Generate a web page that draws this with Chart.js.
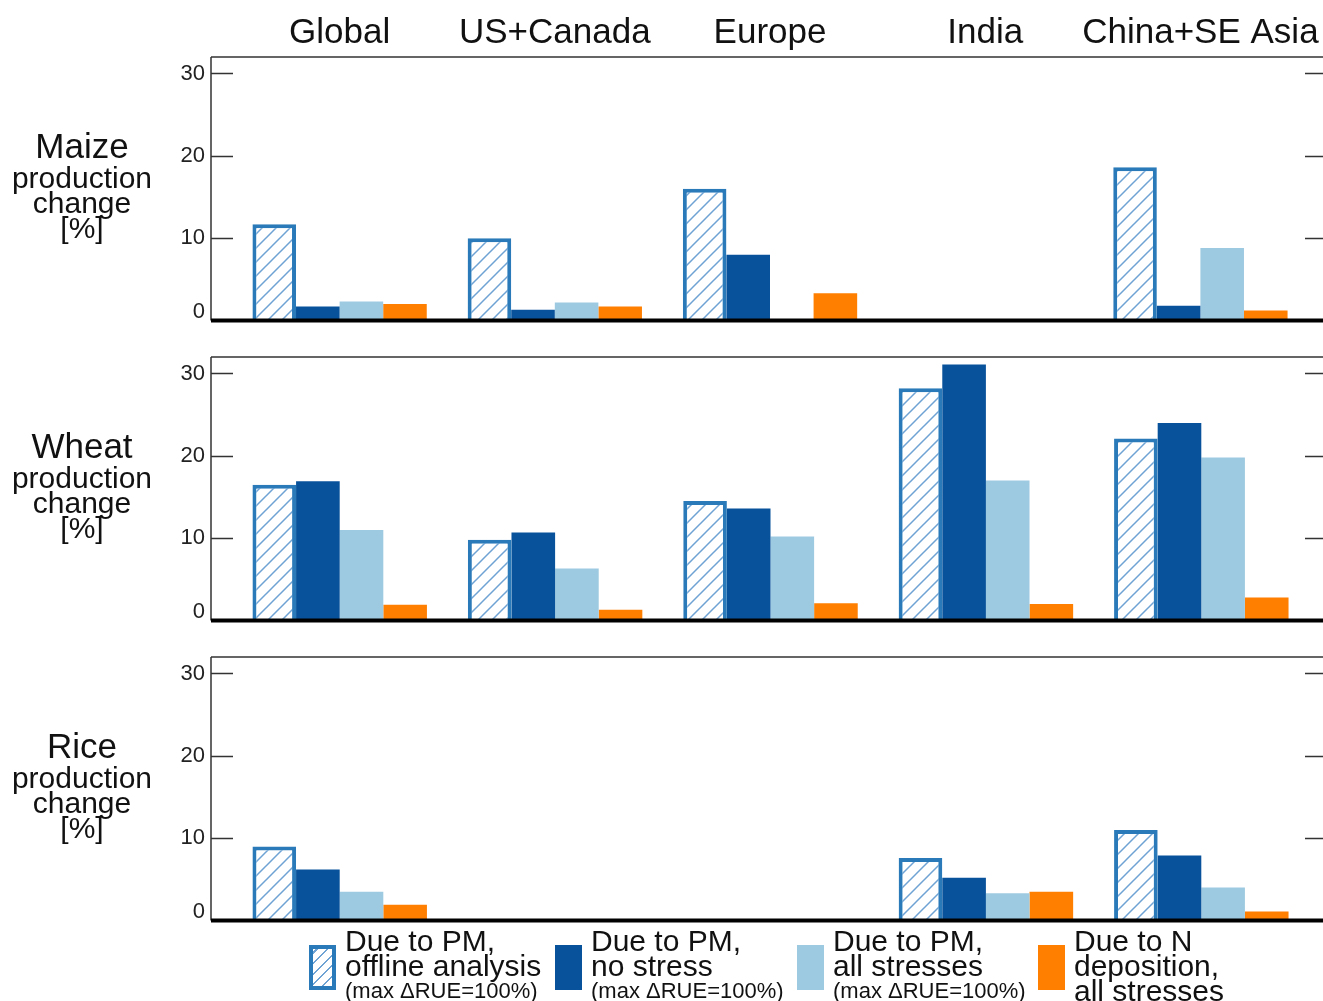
<!DOCTYPE html>
<html>
<head>
<meta charset="utf-8">
<script src="https://cdn.jsdelivr.net/npm/chart.js@4.4.1/dist/chart.umd.min.js"></script>
<style>
  body { margin: 0; background: #fff; font-family: "Liberation Sans", Arial, sans-serif; color: #111; }
  #page { position: relative; width: 1323px; height: 1001px; overflow: hidden; }
  canvas { position: absolute; left: 0; }
  .lab { position: absolute; left: 0; width: 164px; text-align: center; white-space: nowrap; }
  .big { font-size: 35px; line-height: 34px; }
  .small { font-size: 30px; line-height: 26px; }
  .leg { position: absolute; white-space: nowrap; }
  .leg .l1 { font-size: 30px; line-height: 25px; }
  .leg .l3 { font-size: 22px; line-height: 25px; }
  .sym { position: absolute; width: 27px; height: 45px; box-sizing: border-box; }
</style>
</head>
<body>
<div id="page">
  <canvas id="c0" width="1323" height="364" style="top:0px"></canvas>
  <canvas id="c1" width="1323" height="364" style="top:300px"></canvas>
  <canvas id="c2" width="1323" height="364" style="top:600px"></canvas>
</div>
<script>
// данные
const regions = ["Global", "US+Canada", "Europe", "India", "China+SE Asia"];
const crops = ["Maize", "Wheat", "Rice"];
const yTicks = [0, 10, 20, 30];

const maizeOffline = [11.7, 10.0, 16.0, null, 18.6];
const maizeNoStress = [1.7, 1.3, 8.0, null, 1.8];
const maizeAllStress = [2.3, 2.2, null, null, 8.8];
const maizeNdep = [2.0, 1.7, 3.3, null, 1.2];

const wheatOffline = [16.5, 9.8, 14.5, 28.2, 22.1];
const wheatNoStress = [16.9, 10.7, 13.6, 31.1, 24.0];
const wheatAllStress = [11.0, 6.3, 10.2, 17.0, 19.8];
const wheatNdep = [1.9, 1.3, 2.1, 2.0, 2.8];

const riceOffline = [9.0, null, null, 7.6, 11.0];
const riceNoStress = [6.2, null, null, 5.2, 7.9];
const riceAllStress = [3.5, null, null, 3.3, 4.0];
const riceNdep = [1.9, null, null, 3.5, 1.1];

const legendLabels = [
  ["Due to PM,", "offline analysis", "(max \u0394RUE=100%)"],
  ["Due to PM,", "no stress", "(max \u0394RUE=100%)"],
  ["Due to PM,", "all stresses", "(max \u0394RUE=100%)"],
  ["Due to N", "deposition,", "all stresses"]
];

const seriesByCrop = [
  [maizeOffline, maizeNoStress, maizeAllStress, maizeNdep],
  [wheatOffline, wheatNoStress, wheatAllStress, wheatNdep],
  [riceOffline, riceNoStress, riceAllStress, riceNdep]
];

const colHatchBorder = "#2a7ab9";
const colDark = "#08529b";
const colLight = "#9ecae1";
const colOrange = "#ff7f00";

// штриховка
function makeHatch() {
  const p = document.createElement("canvas");
  p.width = 14; p.height = 14;
  const g = p.getContext("2d");
  g.fillStyle = "#fff";
  g.fillRect(0, 0, 14, 14);
  g.strokeStyle = "#6ea3d3";
  g.lineWidth = 1.5;
  g.beginPath();
  g.moveTo(-2, 16); g.lineTo(16, -2);
  g.moveTo(-9, 9); g.lineTo(9, -9);
  g.moveTo(5, 23); g.lineTo(23, 5);
  g.stroke();
  return g.createPattern(p, "repeat");
}

// рамка, засечки и ось нуля
const framePlugin = {
  id: "frame",
  afterDraw(chart) {
    const ctx = chart.ctx;
    const y = chart.scales.y;
    const top = chart.chartArea.top;
    const y0 = y.getPixelForValue(0);
    const L = 211, R = 1323;
    ctx.save();
    ctx.strokeStyle = "#333";
    ctx.lineWidth = 1.5;
    ctx.beginPath();
    ctx.moveTo(L, top); ctx.lineTo(R, top);
    ctx.moveTo(L, top); ctx.lineTo(L, y0);
    yTicks.forEach(function (v) {
      if (v === 0) return;
      const py = Math.round(y.getPixelForValue(v)) + 0.5;
      ctx.moveTo(L, py); ctx.lineTo(L + 22, py);
      ctx.moveTo(R - 18, py); ctx.lineTo(R, py);
    });
    ctx.stroke();
    ctx.strokeStyle = "#000";
    ctx.lineWidth = 4;
    ctx.beginPath();
    ctx.moveTo(L, y0); ctx.lineTo(R, y0);
    ctx.stroke();
    ctx.restore();
  }
};

const hatch = makeHatch();

seriesByCrop.forEach(function (series, i) {
  const first = i === 0;
  new Chart(document.getElementById("c" + i), {
    type: "bar",
    data: {
      labels: regions,
      datasets: [
        { label: legendLabels[0].join(" "), data: series[0], backgroundColor: hatch, borderColor: colHatchBorder, borderWidth: 4 },
        { label: legendLabels[1].join(" "), data: series[1], backgroundColor: colDark, borderWidth: 0 },
        { label: legendLabels[2].join(" "), data: series[2], backgroundColor: colLight, borderWidth: 0 },
        { label: legendLabels[3].join(" "), data: series[3], backgroundColor: colOrange, borderWidth: 0 }
      ]
    },
    options: {
      responsive: false,
      animation: false,
      devicePixelRatio: 1,
      datasets: { bar: { barPercentage: 1, categoryPercentage: 0.81 } },
      layout: { padding: { top: 0, right: 14, bottom: 10, left: 0 } },
      plugins: { legend: { display: false }, tooltip: { enabled: false } },
      scales: {
        x: {
          position: "top",
          grid: { display: false, drawTicks: false },
          border: { display: false },
          ticks: { display: first, font: { family: "Liberation Sans", size: 35 }, color: "#111", padding: 3, maxRotation: 0, autoSkip: false },
          afterFit: function (s) { s.height = 57; }
        },
        y: {
          min: 0,
          max: 32,
          grid: { display: false, drawTicks: false },
          border: { display: false },
          ticks: {
            stepSize: 10,
            color: "#222",
            padding: 27,
            // "0" чуть выше оси, как в оригинале
            font: function (c) {
              return { family: "Liberation Sans", size: 22, lineHeight: c.tick && c.tick.value === 0 ? 0.75 : 1.2 };
            },
            callback: function (v) { return v === 0 ? ["0", ""] : v; }
          },
          afterBuildTicks: function (s) {
            s.ticks = yTicks.map(function (v) { return { value: v }; });
          },
          afterFit: function (s) { s.width = 232; }
        }
      }
    },
    plugins: [framePlugin]
  });
});

// подписи строк
const page = document.getElementById("page");
crops.forEach(function (crop, i) {
  const off = i * 300;
  const lines = [[crop, "big", 146], ["production", "small", 178], ["change", "small", 203], ["[%]", "small", 228]];
  lines.forEach(function (ln) {
    const d = document.createElement("div");
    d.className = "lab " + ln[1];
    d.textContent = ln[0];
    const h = ln[1] === "big" ? 34 : 26;
    d.style.top = (ln[2] + off - h / 2) + "px";
    page.appendChild(d);
  });
});

// легенда
const legX = [309, 555, 797, 1038];
const legSym = [
  "border:4px solid " + colHatchBorder + ";background:repeating-linear-gradient(-45deg,#fff 0px,#fff 6px,#6ea3d3 6px,#6ea3d3 7.5px)",
  "background:" + colDark,
  "background:" + colLight,
  "background:" + colOrange
];
legendLabels.forEach(function (lab, i) {
  const s = document.createElement("div");
  s.className = "sym";
  s.style.cssText = "left:" + legX[i] + "px;top:945px;" + legSym[i];
  page.appendChild(s);
  const t = document.createElement("div");
  t.className = "leg";
  t.style.left = (legX[i] + 36) + "px";
  t.style.top = "928px";
  const small = i < 3;
  t.innerHTML = '<div class="l1">' + lab[0] + '</div><div class="l1">' + lab[1] + '</div><div class="' + (small ? "l3" : "l1") + '">' + lab[2] + '</div>';
  page.appendChild(t);
});
</script>
</body>
</html>
